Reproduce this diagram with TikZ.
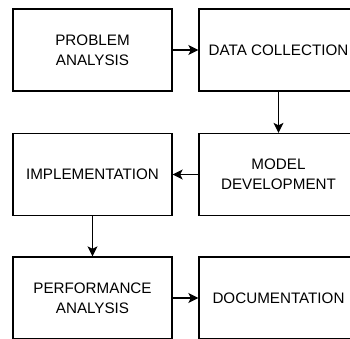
\documentclass[tikz,border=0pt]{standalone}
\usepackage{fontspec}
\setmainfont{Liberation Sans}
\usetikzlibrary{arrows.meta}
\begin{document}
\begin{tikzpicture}[x=1pt,y=1pt,
  box/.style={draw=black, line width=1.3pt, minimum width=159pt, minimum height=82pt, inner sep=0pt, align=center,
    text=black, font=\fontsize{15.2pt}{20pt}\selectfont},
  conn/.style={draw=black, line width=1.3pt, -{Stealth[length=10pt,width=10pt,inset=2.5pt]}}]
\useasboundingbox (0,0) rectangle (350,-338);
\clip (0,0) rectangle (350,-338);
\node[box] (pa) at (92.5,-50) {PROBLEM\\ANALYSIS};
\node[box] (dc) at (278.5,-50) {DATA COLLECTION};
\node[box] (md) at (278.5,-174.5) {MODEL\\DEVELOPMENT};
\node[box] (im) at (92.5,-174.5) {IMPLEMENTATION};
\node[box] (pf) at (92.5,-298) {PERFORMANCE\\ANALYSIS};
\node[box] (doc) at (278.5,-298) {DOCUMENTATION};
\draw[conn] (pa) -- (dc);
\draw[conn] (dc) -- (md);
\draw[conn] (md) -- (im);
\draw[conn] (im) -- (pf);
\draw[conn] (pf) -- (doc);
\end{tikzpicture}
\end{document}
